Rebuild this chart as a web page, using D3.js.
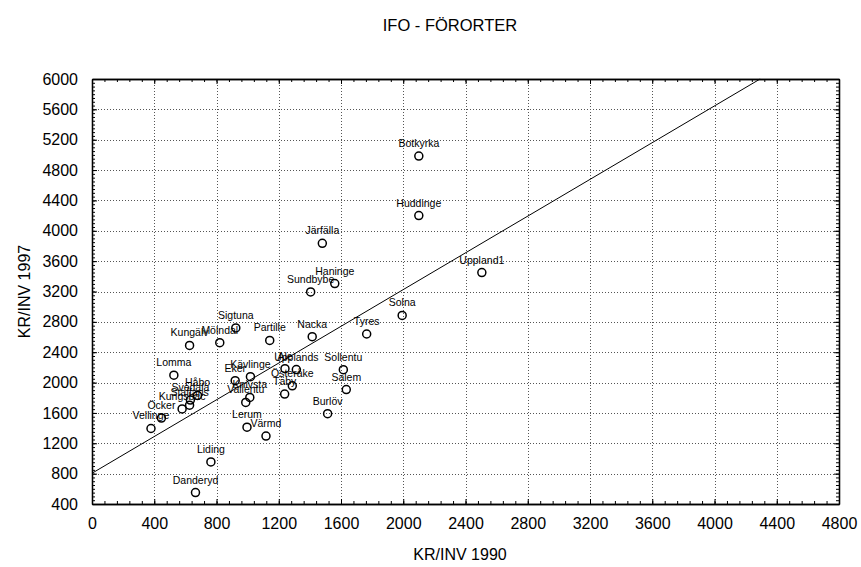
<!DOCTYPE html>
<html>
<head>
<meta charset="utf-8">
<script src="https://cdn.jsdelivr.net/npm/d3@7"></script>
<style>
  html, body { margin: 0; padding: 0; background: #fff; }
  svg { display: block; font-family: "Liberation Sans", Arial, sans-serif; }
</style>
</head>
<body>
<svg id="chart" width="861" height="567"></svg>
<script>
// ---- data ----
const names = ["Botkyrka","Huddinge","Järfälla","Haninge","Sundbybe","Uppland1","Solna","Tyres","Nacka",
  "Sigtuna","Mölndal","Partille","Kungälv","Ale","Upplands","Österåke","Täby","Sollentu","Salem","Burlöv",
  "Kävlinge","Eker","Vallentu","Knivsta","Lomma","Håbo","Svedala","Staffans","Kungsbac","Öcker","Vellinge",
  "Liding","Danderyd","Lerum","Värmd"];
const kr1990 = [2100,2100,1480,1560,1405,2505,1993,1765,1415,
  924,821,1142,627,1240,1313,1287,1238,1615,1634,1514,
  1018,920,988,1014,526,678,632,627,579,446,379,
  764,665,996,1118];
const kr1997 = [4985,4200,3835,3305,3195,3450,2885,2640,2605,
  2720,2525,2555,2490,2183,2172,1957,1848,2170,1908,1590,
  2077,2025,1739,1804,2098,1831,1769,1702,1653,1532,1395,
  955,550,1412,1295];
const fitX = [0, 4293];
const fitY = [805, 6000];
const xTicks = [0,400,800,1200,1600,2000,2400,2800,3200,3600,4000,4400,4800];
const yTicks = [400,800,1200,1600,2000,2400,2800,3200,3600,4000,4400,4800,5200,5600,6000];
const titleText = "IFO - FÖRORTER";
const xTitle = "KR/INV 1990";
const yTitle = "KR/INV 1997";

// ---- layout ----
const L = 92, R = 839, T = 79, B = 504;
const svg = d3.select("#chart");
const x = d3.scaleLinear().domain([0, 4800]).range([L, R]);
const y = d3.scaleLinear().domain([400, 6000]).range([B, T]);

// grid
const grid = svg.append("g").attr("stroke", "#555").attr("stroke-width", 1).attr("stroke-dasharray", "1,2");
grid.selectAll("line.gx").data(xTicks.slice(1, -1)).enter().append("line")
  .attr("x1", d => Math.round(x(d)) + 0.5).attr("x2", d => Math.round(x(d)) + 0.5)
  .attr("y1", T).attr("y2", B);
grid.selectAll("line.gy").data(yTicks.slice(1, -1)).enter().append("line")
  .attr("y1", d => Math.round(y(d)) + 0.5).attr("y2", d => Math.round(y(d)) + 0.5)
  .attr("x1", L).attr("x2", R);

// axes (ticks inward)
const xMinor = d3.range(0, 4801, 80);
const yMinor = d3.range(400, 6001, 50);
function axisGroup(axis, tx, ty) {
  return svg.append("g").attr("transform", `translate(${tx},${ty})`).call(axis);
}
const fontSize = 16;
const ab = axisGroup(d3.axisBottom(x).tickValues(xTicks).tickFormat(d3.format("d")).tickSizeInner(-5).tickSizeOuter(0).tickPadding(14), 0, B);
const al = axisGroup(d3.axisLeft(y).tickValues(yTicks).tickFormat(d3.format("d")).tickSizeInner(-5).tickSizeOuter(0).tickPadding(14), L, 0);
const at = axisGroup(d3.axisTop(x).tickValues(xTicks).tickFormat("").tickSizeInner(-5).tickSizeOuter(0), 0, T);
const ar = axisGroup(d3.axisRight(y).tickValues(yTicks).tickFormat("").tickSizeInner(-5).tickSizeOuter(0), R, 0);
// minor ticks
axisGroup(d3.axisBottom(x).tickValues(xMinor).tickFormat("").tickSizeInner(-3).tickSizeOuter(0), 0, B);
axisGroup(d3.axisTop(x).tickValues(xMinor).tickFormat("").tickSizeInner(-3).tickSizeOuter(0), 0, T);
axisGroup(d3.axisLeft(y).tickValues(yMinor).tickFormat("").tickSizeInner(-3).tickSizeOuter(0), L, 0);
axisGroup(d3.axisRight(y).tickValues(yMinor).tickFormat("").tickSizeInner(-3).tickSizeOuter(0), R, 0);
svg.selectAll(".domain").attr("stroke", "#000").attr("stroke-width", 1.3);
svg.selectAll(".tick line").attr("stroke", "#000");
svg.selectAll(".tick text").attr("font-size", fontSize).attr("fill", "#000")
  .attr("font-family", "'Liberation Sans', Arial, sans-serif");
al.selectAll(".tick text").attr("dx", 0);

// fit line
svg.append("line")
  .attr("x1", x(fitX[0])).attr("y1", y(fitY[0]))
  .attr("x2", x(fitX[1])).attr("y2", y(fitY[1]))
  .attr("stroke", "#000").attr("stroke-width", 1);

// points
const pts = names.map((n, i) => ({ n, a: kr1990[i], b: kr1997[i] }));
svg.append("g").selectAll("circle").data(pts).enter().append("circle")
  .attr("cx", d => x(d.a)).attr("cy", d => y(d.b)).attr("r", 4)
  .attr("fill", "none").attr("stroke", "#000").attr("stroke-width", 1.5);
svg.append("g").selectAll("text").data(pts).enter().append("text")
  .attr("x", d => x(d.a)).attr("y", d => y(d.b) - 9)
  .attr("text-anchor", "middle").attr("font-size", 10.5).attr("fill", "#000")
  .text(d => d.n);

// titles
svg.append("text").attr("x", 450).attr("y", 31).attr("text-anchor", "middle")
  .attr("font-size", 16.5).attr("fill", "#000").text(titleText);
svg.append("text").attr("x", 460).attr("y", 560).attr("text-anchor", "middle")
  .attr("font-size", 16).attr("fill", "#000").text(xTitle);
svg.append("text").attr("transform", `translate(30,${(T + B) / 2}) rotate(-90)`)
  .attr("text-anchor", "middle").attr("font-size", 16).attr("fill", "#000").text(yTitle);
</script>
</body>
</html>
